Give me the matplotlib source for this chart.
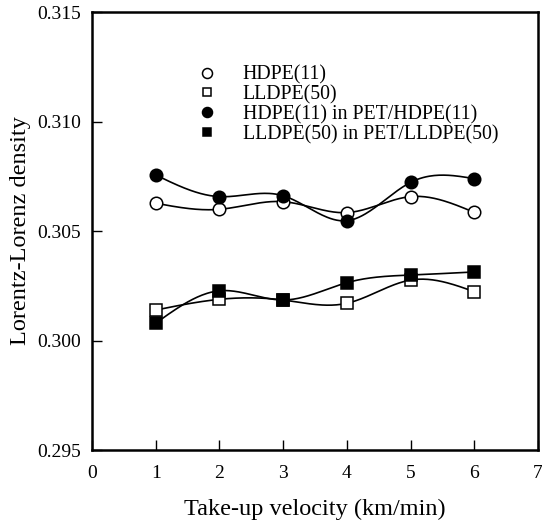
import numpy as np
import matplotlib
matplotlib.use("Agg")
import matplotlib.pyplot as plt

plt.rcParams['font.family'] = ['Liberation Serif', 'DejaVu Serif']

# take-up velocity (km/min)
velocity = [1, 2, 3, 4, 5, 6]
hdpe = [0.30627, 0.30599, 0.30634, 0.30584, 0.30657, 0.30585]
lldpe = [0.30139, 0.30188, 0.30185, 0.30170, 0.30276, 0.30223]
hdpe_in_pet = [0.30756, 0.30657, 0.30661, 0.30547, 0.30722, 0.30739]
lldpe_in_pet = [0.30079, 0.30227, 0.30185, 0.30264, 0.30299, 0.30313]


def spline(x, y, n=200):
    # natural cubic spline through the points
    x = np.asarray(x, float)
    y = np.asarray(y, float)
    k = len(x)
    h = np.diff(x)
    A = np.zeros((k, k))
    b = np.zeros(k)
    A[0, 0] = A[-1, -1] = 1.0
    for i in range(1, k - 1):
        A[i, i - 1] = h[i - 1]
        A[i, i] = 2 * (h[i - 1] + h[i])
        A[i, i + 1] = h[i]
        b[i] = 6 * ((y[i + 1] - y[i]) / h[i] - (y[i] - y[i - 1]) / h[i - 1])
    M = np.linalg.solve(A, b)
    xs = np.linspace(x[0], x[-1], n)
    ys = np.empty_like(xs)
    for j, xv in enumerate(xs):
        i = min(np.searchsorted(x, xv, side='right') - 1, k - 2)
        t1 = x[i + 1] - xv
        t0 = xv - x[i]
        ys[j] = (M[i] * t1 ** 3 / (6 * h[i]) + M[i + 1] * t0 ** 3 / (6 * h[i])
                 + (y[i] / h[i] - M[i] * h[i] / 6) * t1
                 + (y[i + 1] / h[i] - M[i + 1] * h[i] / 6) * t0)
    return xs, ys


fig = plt.figure(figsize=(5.42, 5.22), dpi=100)
ax = fig.add_axes([0.1697, 0.1379, 0.8229, 0.8391])

series = [
    (hdpe, 'o', 'white', 9, 'HDPE(11)'),
    (lldpe, 's', 'white', 8, 'LLDPE(50)'),
    (hdpe_in_pet, 'o', 'black', 9, 'HDPE(11) in PET/HDPE(11)'),
    (lldpe_in_pet, 's', 'black', 8, 'LLDPE(50) in PET/LLDPE(50)'),
]
for vals, mk, fc, ms, lab in series:
    xs, ys = spline(velocity, vals)
    ax.plot(xs, ys, color='black', lw=1.2, zorder=2)
    ax.plot(velocity, vals, ls='none', marker=mk, mfc=fc, mec='black',
            mew=1.1, ms=ms, label=lab, zorder=3)

ax.set_xlim(0, 7)
ax.set_ylim(0.295, 0.315)
ax.set_xticks(range(0, 8))
ax.set_yticks([0.295, 0.300, 0.305, 0.310, 0.315])
ax.set_yticklabels(['0.295', '0.300', '0.305', '0.310', '0.315'])
ax.tick_params(direction='in', length=7, width=1, labelsize=14,
               top=False, right=False)
ax.tick_params(axis='x', pad=11)
ax.tick_params(axis='y', pad=8)
for s in ax.spines.values():
    s.set_linewidth(1.8)

ax.set_xlabel('Take-up velocity (km/min)', fontsize=17.5, labelpad=12)
ax.set_ylabel('Lorentz-Lorenz density', fontsize=17.5, labelpad=4)

ax.legend(loc='upper left', bbox_to_anchor=(0.204, 0.91), frameon=False,
          fontsize=14.3, handletextpad=1.3, labelspacing=0.03,
          handlelength=1.0, markerscale=0.8, borderaxespad=0.3)

fig.savefig('out.png', dpi=100)
